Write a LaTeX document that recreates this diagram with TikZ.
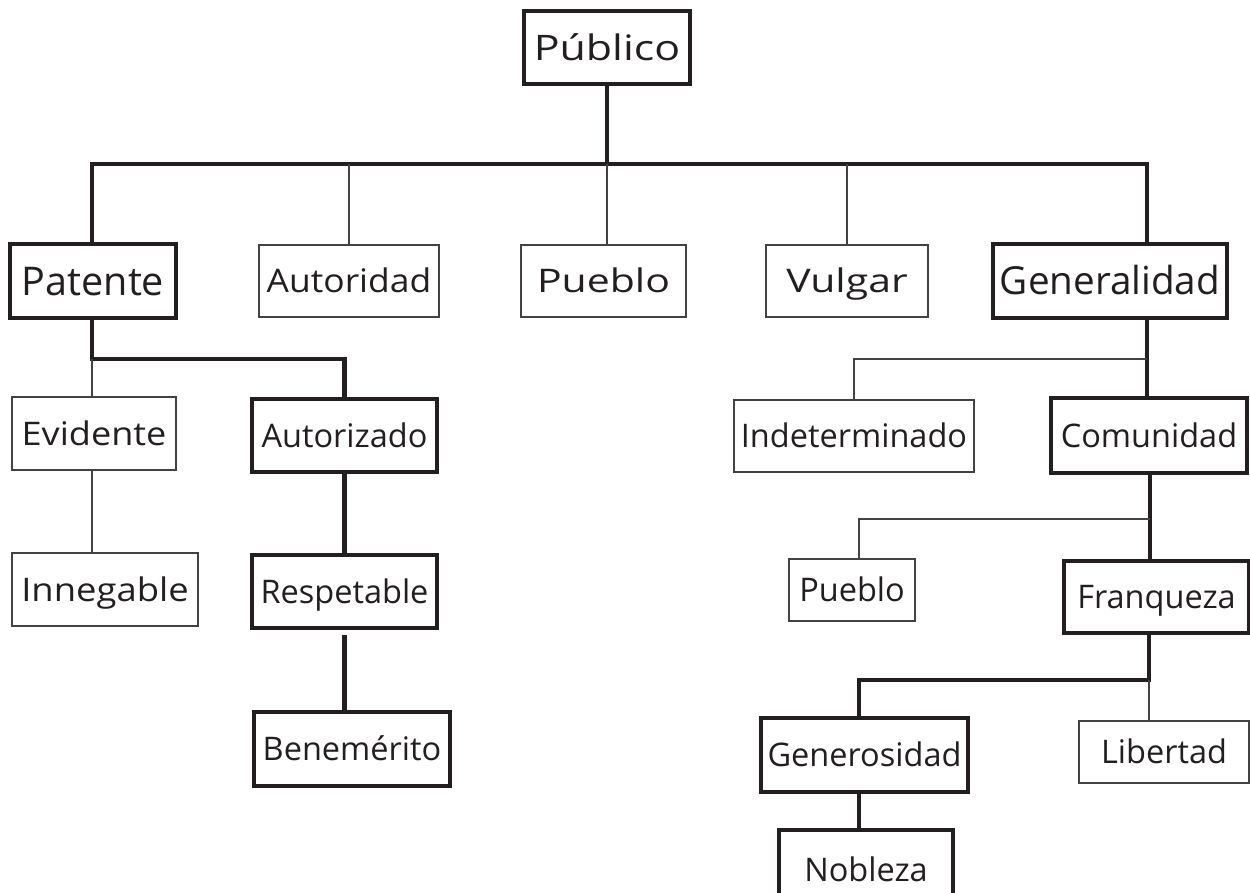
\documentclass[tikz,border=0pt]{standalone}
\usepackage{fontspec}
\setmainfont{Open Sans}
\definecolor{ink}{RGB}{35,31,32}
\begin{document}
\begin{tikzpicture}[x=0.02cm,y=-0.02cm,
  every node/.style={inner sep=0pt,outer sep=0pt,text=ink,text depth=0pt,
    label font={18.5}{1}},
  label font/.style 2 args={text height=#1*0.714pt,
    font=\fontsize{#1}{#1}\selectfont\addfontfeature{FakeStretch=#2}},
  heavybox/.style={draw=ink,line width=2.3pt},
  lightbox/.style={draw=ink!85,line width=0.8pt},
  dim/.style 2 args={minimum width=#1*0.02cm,minimum height=#2*0.02cm},
  heavyline/.style={draw=ink,line width=2.3pt},
  lightline/.style={draw=ink!85,line width=0.8pt}]
\clip (0,0) rectangle (1250,892);
\fill[white] (0,0) rectangle (1250,892);

% first level
\node[heavybox,dim={166}{73},label font={20}{1.22}] (pub) at (607,47.5) {Público};
\node[heavybox,dim={166}{74},label font={22.5}{1}] (pat) at (93,281) {Patente};
\node[lightbox,dim={180}{72},label font={18.5}{1.09}] (aut) at (349,281) {Autoridad};
\node[lightbox,dim={165}{72},label font={18.5}{1.26}] (pue) at (603.5,281) {Pueblo};
\node[lightbox,dim={162}{72},label font={18.5}{1.26}] (vul) at (847,281) {Vulgar};
\node[heavybox,dim={234}{74},label font={22}{1}] (gen) at (1110,281) {Generalidad};

% left branch
\node[lightbox,dim={164}{73},label font={18.5}{1.11}] (evi) at (94,433.5) {Evidente};
\node[heavybox,dim={185}{73}] (atz) at (344.5,435.5) {Autorizado};
\node[lightbox,dim={186}{73},label font={18.5}{1.12}] (inn) at (105,589.5) {Innegable};
\node[heavybox,dim={185}{73}] (res) at (344.5,591.5) {Respetable};
\node[heavybox,dim={196}{74}] (ben) at (352,749) {Benemérito};

% right branch
\node[lightbox,dim={240}{72}] (ind) at (854,436) {Indeterminado};
\node[heavybox,dim={196}{75}] (com) at (1149,435.5) {Comunidad};
\node[lightbox,dim={126}{62}] (pue2) at (852,590) {Pueblo};
\node[heavybox,dim={185}{72}] (fra) at (1156.5,597) {Franqueza};
\node[heavybox,dim={207}{74}] (gns) at (864.5,755) {Generosidad};
\node[lightbox,dim={170}{62}] (lib) at (1164,752) {Libertad};
\node[heavybox,dim={174}{80}] (nob) at (866,870) {Nobleza};

% junction points
\coordinate (bar) at (607,164);
\coordinate (barR) at (1147,164);
\coordinate (pj) at (92,359);
\coordinate (gj) at (1147,359);
\coordinate (cj) at (1150,519);
\coordinate (pj2) at (859,519);
\coordinate (fj) at (1149,680);
\coordinate (gj2) at (859,680);

% top level connectors
\draw[heavyline] (pub.south) -- (bar);
\draw[heavyline] (pat.north -| pj) |- (bar) -- (barR) -- (gen.north -| barR);
\draw[lightline] (aut.north) -- (aut.north |- bar);
\draw[lightline] (pue.north -| bar) -- (bar);
\draw[lightline] (vul.north) -- (vul.north |- bar);

% Patente subtree
\draw[heavyline] (pat.south -| pj) -- (pj) -| (atz.north);
\draw[lightline] (pj) -- (evi.north -| pj);
\draw[lightline] (evi.south -| pj) -- (inn.north -| pj);
\draw[heavyline] (atz.south) -- (res.north);
\draw[heavyline] ([yshift=-4pt]res.south) -- (res.south |- ben.north);

% Generalidad subtree
\draw[heavyline] (gen.south -| gj) -- (com.north -| gj);
\draw[lightline] (gj) -| (ind.north);
\draw[heavyline] (com.south -| cj) -- (fra.north -| cj);
\draw[lightline] (cj) -- (pj2) -- (pj2 |- pue2.north);
\draw[heavyline] (fra.south -| fj) -- (fj) -- (gj2) -- (gj2 |- gns.north);
\draw[lightline] (fj) -- (fj |- lib.north);
\draw[heavyline] (gns.south -| gj2) -- (nob.north -| gj2);
\end{tikzpicture}
\end{document}
